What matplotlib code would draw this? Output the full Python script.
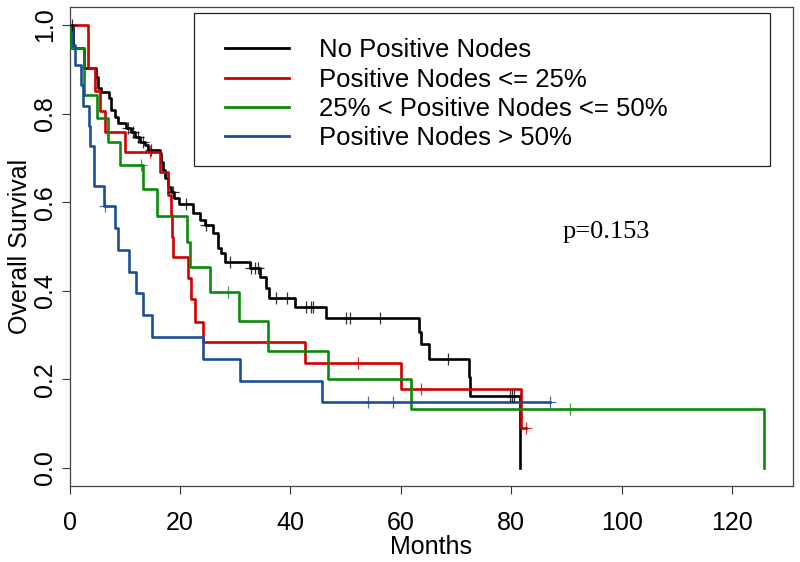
import matplotlib
matplotlib.use('Agg')
import matplotlib.pyplot as plt
from matplotlib.patches import Rectangle
import numpy as np

# Kaplan-Meier curves (months, survival after each step)
black_t = [0, 0.6, 2.7, 4.8, 5.1, 5.7, 7.2, 7.5, 8.2, 8.8, 10.3, 11.2, 11.8, 12.7, 13.6, 14.2,
           16.3, 16.6, 16.9, 17.2, 17.8, 18.4, 19.0, 19.9, 22.3, 23.6, 24.5, 25.9, 26.9, 27.5,
           28.1, 32.6, 34.4, 35.6, 36.2, 40.8, 46.5, 63.3, 63.7, 65.1, 72.3, 72.6, 81.5]
black_s = [1.0, 0.947, 0.902, 0.883, 0.857, 0.849, 0.835, 0.808, 0.793, 0.778, 0.767, 0.759,
           0.748, 0.737, 0.729, 0.718, 0.710, 0.691, 0.673, 0.654, 0.635, 0.624, 0.609, 0.597,
           0.575, 0.560, 0.549, 0.530, 0.496, 0.485, 0.466, 0.451, 0.432, 0.406, 0.383, 0.364,
           0.339, 0.308, 0.279, 0.245, 0.206, 0.163, 0.0]
black_cens = [0.4, 10.5, 11.5, 12.4, 13.3, 14.8, 18.7, 21.1, 24.8, 29.0, 32.9, 33.5, 34.1,
              37.4, 39.3, 42.9, 43.8, 44.1, 50.1, 50.8, 56.2, 68.5, 79.7, 80.1, 80.4]

red_t = [0, 3.3, 4.7, 5.6, 6.5, 10.0, 16.3, 17.8, 18.4, 18.6, 18.8, 21.4, 22.0, 22.8, 24.2,
         42.6, 60.0, 81.8, 82.6]
red_s = [1.0, 0.904, 0.851, 0.806, 0.759, 0.714, 0.669, 0.616, 0.571, 0.522, 0.477, 0.428,
         0.381, 0.330, 0.284, 0.238, 0.178, 0.090, 0.090]
red_cens = [14.5, 52.3, 63.6, 82.6]

green_t = [0, 0.1, 2.6, 5.0, 6.9, 9.1, 13.3, 15.8, 21.3, 21.9, 25.4, 30.7, 35.9, 46.8, 61.9, 125.7]
green_s = [1.0, 0.947, 0.842, 0.789, 0.737, 0.684, 0.630, 0.569, 0.511, 0.454, 0.398, 0.331,
           0.265, 0.200, 0.133, 0.0]
green_cens = [13.0, 28.7, 90.6]

blue_t = [0, 0.4, 1.0, 2.0, 2.4, 3.6, 3.7, 4.4, 6.2, 8.15, 8.7, 10.7, 12.0, 13.3, 15.0, 24.1,
          30.8, 45.8, 87.0]
blue_s = [1.0, 0.955, 0.909, 0.864, 0.818, 0.773, 0.727, 0.636, 0.591, 0.541, 0.491, 0.443,
          0.394, 0.346, 0.296, 0.247, 0.197, 0.148, 0.148]
blue_cens = [6.5, 54.0, 58.6, 87.0]

labels = ['No Positive Nodes', 'Positive Nodes <= 25%',
          '25% < Positive Nodes <= 50%', 'Positive Nodes > 50%']
colors = ['#000000', '#d00000', '#0a8a0a', '#1a4f96']

plt.rcParams['font.family'] = ['Liberation Sans', 'DejaVu Sans']

fig = plt.figure(figsize=(8, 5.62), dpi=100)
ax = fig.add_axes([0.0869, 0.1358, 0.9044, 0.8512])

curves = [(black_t, black_s, black_cens), (red_t, red_s, red_cens),
          (green_t, green_s, green_cens), (blue_t, blue_s, blue_cens)]

for (t, s, cens), col, lab in zip(curves, colors, labels):
    t = np.array(t)
    s = np.array(s)
    ax.step(t, s, where='post', color=col, lw=1.9, label=lab, zorder=3)
    # censored marks sit on the curve
    idx = np.searchsorted(t, cens, side='right') - 1
    ax.plot(cens, s[idx], ls='none', marker='+', ms=8, mew=0.9, color=col, alpha=0.8, zorder=4)

ax.set_xlim(0, 131)
ax.set_ylim(-0.04, 1.04)
ax.set_xticks(np.arange(0, 121, 20))
ax.set_yticks(np.arange(0, 1.01, 0.2))
ax.set_yticklabels(['%.1f' % v for v in np.arange(0, 1.01, 0.2)], rotation=90, va='center')
ax.tick_params(direction='out', length=6, width=0.8, labelsize=18, color='#333333')
ax.tick_params(axis='x', pad=12)
ax.tick_params(axis='y', pad=3)
for sp in ax.spines.values():
    sp.set_color('#444444')
    sp.set_linewidth(0.9)

ax.set_xlabel('Months', fontsize=18, labelpad=0)
ax.set_ylabel('Overall Survival', fontsize=18, labelpad=0.5)

ax.text(89.3, 0.533, 'p=0.153', fontsize=19, family='Liberation Serif', va='center', ha='left')

# legend entries without frame, box drawn separately like in R
leg = ax.legend(loc='upper left', bbox_to_anchor=(0.2149, 0.935), frameon=False,
                fontsize=18.5, borderaxespad=0, borderpad=0, handlelength=2.5,
                handletextpad=1.15, labelspacing=0.2)
for line in leg.get_lines():
    line.set_linewidth(2.0)
ax.add_patch(Rectangle((0.1717, 0.6683), 0.7963, 0.3198, transform=ax.transAxes,
                       fill=False, edgecolor='#222222', lw=0.9, zorder=5))

fig.savefig('out.png', dpi=100)
